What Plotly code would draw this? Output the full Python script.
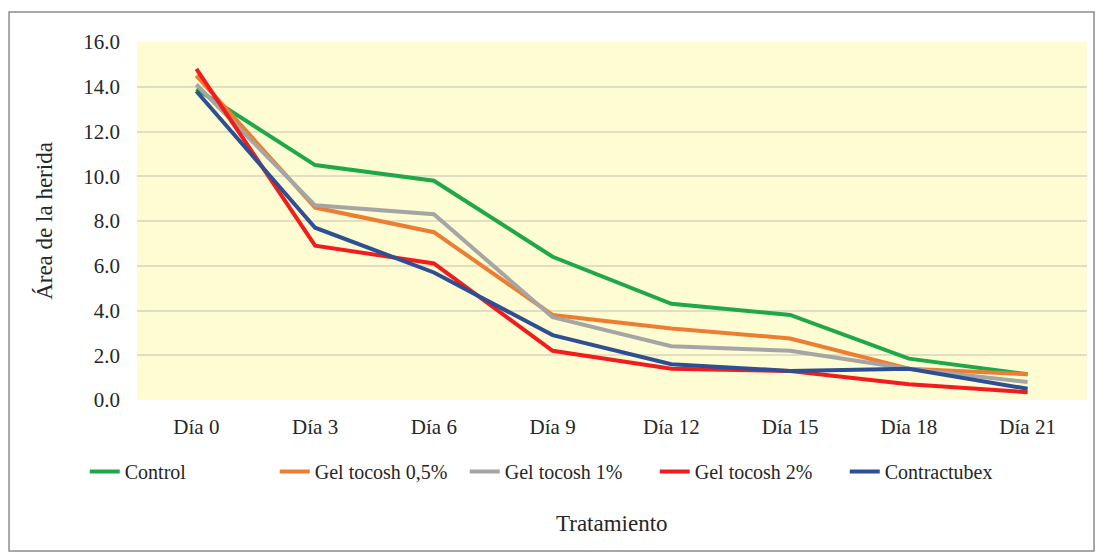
import plotly.graph_objects as go

dias = ["Día 0", "Día 3", "Día 6", "Día 9", "Día 12", "Día 15", "Día 18", "Día 21"]
control = [13.9, 10.5, 9.8, 6.4, 4.3, 3.8, 1.85, 1.15]
gel_05 = [14.5, 8.6, 7.5, 3.8, 3.2, 2.75, 1.4, 1.15]
gel_1 = [14.1, 8.7, 8.3, 3.7, 2.4, 2.2, 1.4, 0.8]
gel_2 = [14.8, 6.9, 6.1, 2.2, 1.4, 1.3, 0.7, 0.35]
contractubex = [13.8, 7.7, 5.7, 2.9, 1.6, 1.3, 1.4, 0.5]

series = [
    ("Control", control, "#1FA84A"),
    ("Gel tocosh 0,5%", gel_05, "#ED7D31"),
    ("Gel tocosh 1%", gel_1, "#A5A5A5"),
    ("Gel tocosh 2%", gel_2, "#F21C1C"),
    ("Contractubex", contractubex, "#2E4F94"),
]

fig = go.Figure()
for name, vals, col in series:
    fig.add_trace(go.Scatter(x=dias, y=vals, name=name, mode="lines",
                             line=dict(color=col, width=4)))

font_family = "Liberation Serif"
# page body adds an 8px margin, so the figure is sized/offset accordingly
fig.update_layout(
    width=1087, height=544,
    margin=dict(l=129, r=8, t=34, b=152),
    paper_bgcolor="white",
    plot_bgcolor="#FEFCD2",
    font=dict(family=font_family, size=21, color="#262626"),
    showlegend=True,
    legend=dict(orientation="h", x=-0.055, xanchor="left", y=-0.2, yanchor="middle",
                font=dict(size=20), tracegroupgap=0, entrywidth=145,
                entrywidthmode="pixels"),
    xaxis=dict(showgrid=False, ticks="", ticklabelstandoff=12, zeroline=False,
               showline=False, range=[-0.5, 7.5], automargin=False),
    yaxis=dict(range=[0, 16], dtick=2, tickformat=".1f", showgrid=True,
               gridcolor="#E2DEC4", gridwidth=1.5, zeroline=False, ticks="",
               ticklabelstandoff=16, automargin=False,
               title=dict(text="Área de la herida", font=dict(size=23), standoff=24)),
    annotations=[dict(text="Tratamiento", xref="paper", yref="paper", x=0.5,
                      y=-0.344, xanchor="center", yanchor="middle", showarrow=False,
                      font=dict(size=23))],
    shapes=[dict(type="rect", xref="paper", yref="paper",
                 x0=-0.1347, x1=1.0074, y0=-0.4218, y1=1.0838,
                 line=dict(color="#8C8C8C", width=1.5))],
)

fig.write_html("out.html")
